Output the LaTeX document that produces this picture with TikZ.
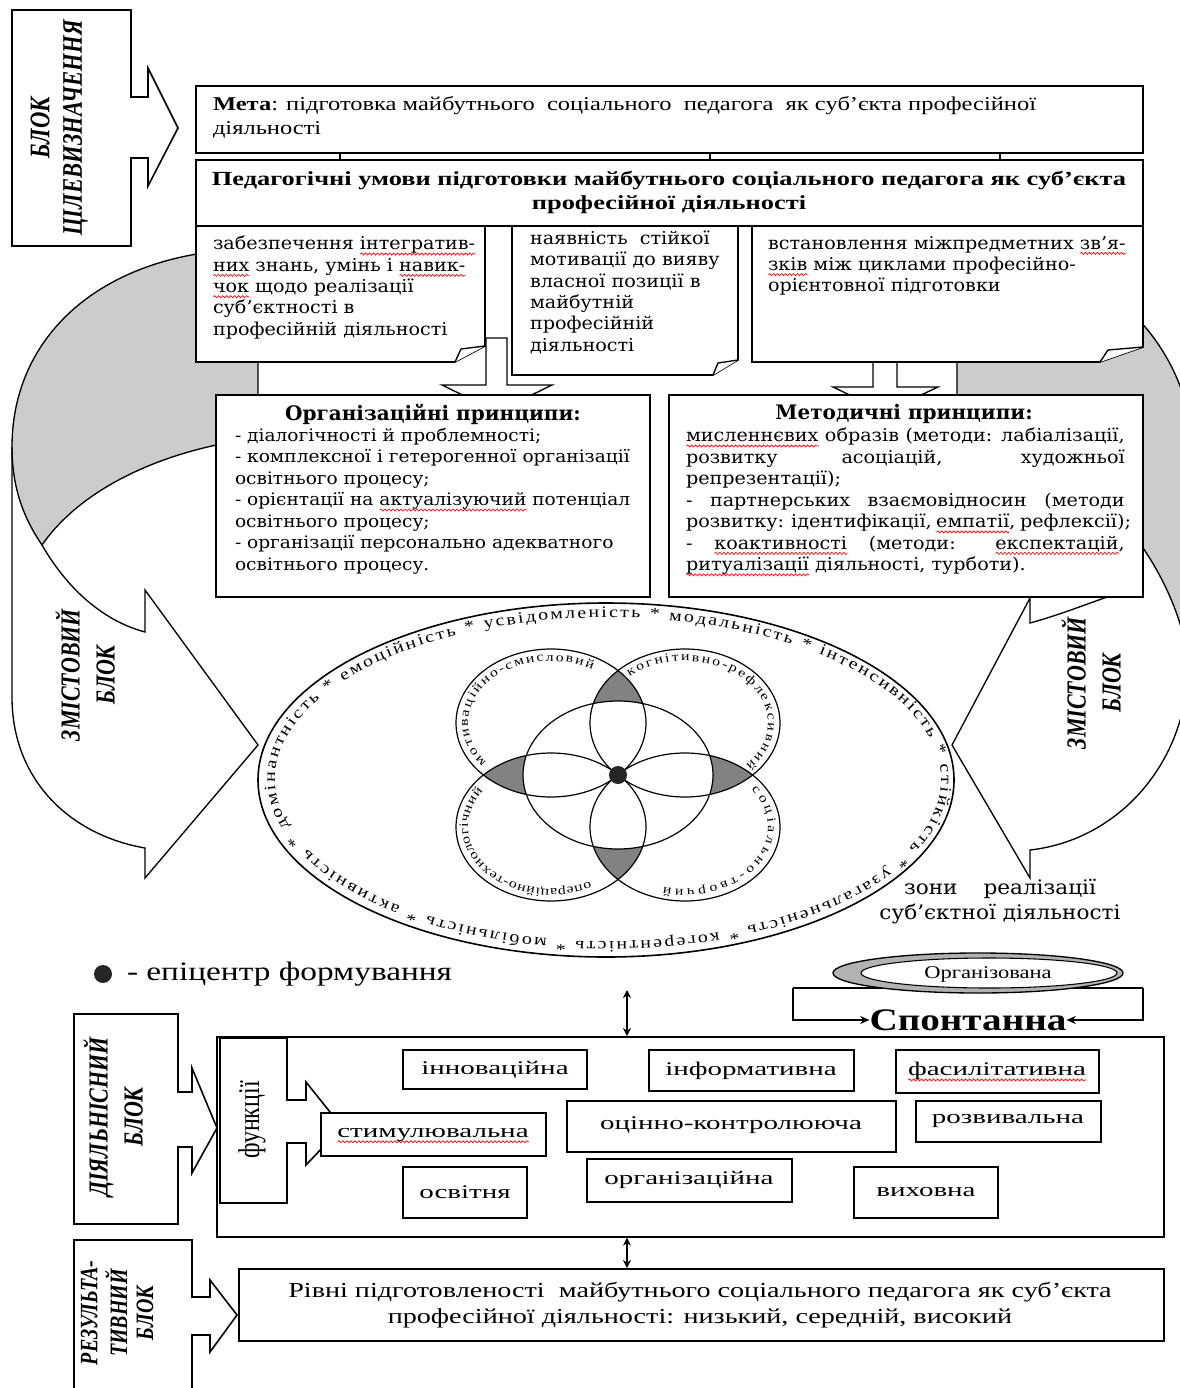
\documentclass[tikz,border=0pt]{standalone}
\usepackage{fontspec}
\setmainfont{Liberation Serif}
\newfontfamily\tw[FakeStretch=1.25]{Liberation Serif}
\newfontfamily\twx[FakeStretch=1.32]{Liberation Serif}
\newfontfamily\tfw[FakeStretch=1.5]{Liberation Serif}
\newfontfamily\dv{DejaVu Serif}
\newfontfamily\dvw[FakeStretch=1.08]{DejaVu Serif}
\usetikzlibrary{decorations.text,decorations.pathmorphing,arrows.meta}
\definecolor{bandgray}{RGB}{204,204,204}
\definecolor{petalgray}{RGB}{130,130,130}
\newlength\rwlen
\newcommand\rw[1]{\settowidth\rwlen{#1}\leavevmode\rlap{\raisebox{-3.2pt}[0pt][0pt]{\tikz[baseline=0pt]\draw[red, line width=0.5pt, decorate, decoration={snake, amplitude=0.8pt, segment length=3pt}] (0pt,0pt) -- (\rwlen,0pt);}}#1}
\tikzset{
 bx/.style={draw, line width=1.2pt, fill=white},
 ln/.style={line width=1pt},
 band/.style={draw, line width=1pt, fill=bandgray},
 circ/.style={draw, line width=0.9pt},
 dar/.style={line width=1pt, {Stealth[length=6pt,width=6pt]}-{Stealth[length=6pt,width=6pt]}},
 sar/.style={line width=1pt, -{Stealth[length=7pt,width=6pt]}},
 lbl/.style={inner sep=0pt, outer sep=0pt},
 fnt/.style={lbl, font=\tfw\fontsize{14.5}{16}\selectfont},
 boxt/.style={lbl, anchor=north west, align=left, font=\dvw\fontsize{13.3}{16}\selectfont},
 prt/.style={lbl, anchor=north west, align=left, font=\dvw\fontsize{13.3}{16.1}\selectfont},
 prto/.style={lbl, anchor=north west, align=left, font=\dvw\fontsize{12.9}{16.1}\selectfont},
 prh/.style={lbl, font=\dv\bfseries\fontsize{15}{17}\selectfont},
}
\begin{document}
\begin{tikzpicture}[x=0.75pt,y=-0.75pt]
\useasboundingbox (0,0) rectangle (1180,1388);
\fill[white] (0,0) rectangle (1180,1388);
\clip (0,0) rectangle (1180,1388);

% ---------- left curved arrow ----------
\filldraw[band] (258,249) .. controls (110,249) and (12,330) .. (12,447) .. controls (12,490) and (25,520) .. (42,545) .. controls (80,490) and (160,450) .. (258,438) -- cycle;
\draw[ln] (12,447) -- (12,697) .. controls (12,780) and (70,835) .. (145,848) -- (145,878) -- (258,745) -- (145,590) -- (145,632) .. controls (100,620) and (65,585) .. (42,545);

% ---------- right curved arrow ----------
\filldraw[band] (957,249) .. controls (1100,249) and (1195,340) .. (1195,470) .. controls (1195,560) and (1192,620) .. (1188,660) .. controls (1175,560) and (1080,440) .. (957,430) -- cycle;
\draw[ln] (1188,660) .. controls (1190,760) and (1120,840) .. (1030,850) -- (1030,878) -- (952,745) -- (1030,598) -- (1030,623) .. controls (1070,612) and (1100,598) .. (1130,590);

% ---------- ellipse and flower ----------
\filldraw[fill=white, line width=1.2pt] (606,780) ellipse [x radius=348, y radius=177];
\begin{scope}\clip (551,723) ellipse [x radius=95, y radius=74]; \fill[petalgray] (685,723) ellipse [x radius=95, y radius=74];\end{scope}
\begin{scope}\clip (685,723) ellipse [x radius=95, y radius=74]; \fill[petalgray] (685,827) ellipse [x radius=95, y radius=74];\end{scope}
\begin{scope}\clip (685,827) ellipse [x radius=95, y radius=74]; \fill[petalgray] (551,827) ellipse [x radius=95, y radius=74];\end{scope}
\begin{scope}\clip (551,827) ellipse [x radius=95, y radius=74]; \fill[petalgray] (551,723) ellipse [x radius=95, y radius=74];\end{scope}
\fill[white] (618,775) ellipse [x radius=95, y radius=74];
\draw[circ] (618,775) ellipse [x radius=95, y radius=74];
\draw[circ] (551,723) ellipse [x radius=95, y radius=74];
\draw[circ] (685,723) ellipse [x radius=95, y radius=74];
\draw[circ] (551,827) ellipse [x radius=95, y radius=74];
\draw[circ] (685,827) ellipse [x radius=95, y radius=74];
\fill[black!85] (618,775) circle (9);

\path[decorate, decoration={text along path, text align={fit to path}, text={|\tw\fontsize{12}{14}\selectfont|домінантність * емоційність * усвідомленість * модальність * інтенсивність * стійкість * узагальненість * когерентність * мобільність * активність *}}] (289.5,826.8) arc[start angle=-197, end angle=160, x radius=333, y radius=162];
\path[decorate, decoration={text along path, text align={fit to path}, text={|\tw\fontsize{9.5}{11}\selectfont|мотиваційно-смисловий}}] (486.5,762) arc[start angle=-219, end angle=-60, x radius=83, y radius=62];
\path[decorate, decoration={text along path, text align={fit to path}, text={|\tw\fontsize{9.5}{11}\selectfont|когнітивно-рефлексивний}}] (629.5,676.9) arc[start angle=-132, end angle=43, x radius=83, y radius=62];
\path[decorate, decoration={text along path, text align={fit to path}, text={|\tw\fontsize{9.5}{11}\selectfont|соціально-творчий}}] (751.3,789.7) arc[start angle=-37, end angle=105, x radius=83, y radius=62];
\path[decorate, decoration={text along path, text align={fit to path}, text={|\tw\fontsize{9.5}{11}\selectfont|операційно-технологічний}}] (590,881.7) arc[start angle=62, end angle=215, x radius=83, y radius=62];

% ---------- block arrows under note boxes ----------
\filldraw[ln, fill=white] (486,338) -- (486,385) -- (442,385) -- (497,412) -- (552,385) -- (507,385) -- (507,338) -- cycle;
\filldraw[ln, fill=white] (873,340) -- (873,387) -- (833,387) -- (885,412) -- (938,387) -- (897,387) -- (897,340) -- cycle;

% ---------- note boxes ----------
\filldraw[bx] (196,226) -- (485,226) -- (485,346) -- (455,362) -- (196,362) -- cycle;
\filldraw[ln, fill=white] (455,362) -- (461,349) -- (485,346);
\filldraw[bx] (512,226) -- (738,226) -- (738,360) -- (713,375) -- (512,375) -- cycle;
\filldraw[ln, fill=white] (713,375) -- (718,363) -- (738,360);
\filldraw[bx] (752,226) -- (1143,226) -- (1143,347) -- (1100,362) -- (752,362) -- cycle;
\filldraw[ln, fill=white] (1100,362) -- (1108,350) -- (1143,347);

\node[boxt] (ta) at (213,236) {забезпечення \rw{інтегратив-}\\\rw{них} знань, умінь і \rw{навик-}\\\rw{чок} щодо реалізації\\суб’єктності в\\професійній діяльності};
\node[boxt] (tb) at (530,231) {наявність~ стійкої\\мотивації до вияву\\власної позиції в\\майбутній\\професійній\\діяльності};
\node[boxt] (tc) at (768,236) {встановлення міжпредметних \rw{зв’я-}\\\rw{зків} між циклами професійно-\\орієнтовної підготовки};

% ---------- top boxes ----------
\filldraw[bx] (196,86) rectangle (1143,153);
\draw[ln] (340,153) -- (340,160);
\draw[ln] (710,153) -- (710,160);
\draw[ln] (1000,153) -- (1000,160);
\filldraw[bx] (196,160) rectangle (1143,226);
\node[lbl, anchor=north west, align=left, font=\tw\fontsize{14.7}{18}\selectfont] (meta) at (213,96) {\textbf{Мета}: підготовка майбутнього~ соціального~ педагога~ як суб’єкта професійної\\діяльності};
\node[lbl, anchor=north, align=center, font=\twx\bfseries\fontsize{15}{18}\selectfont] (ped) at (669,171) {Педагогічні умови підготовки майбутнього соціального педагога як суб’єкта\\професійної діяльності};

% ---------- principles ----------
\filldraw[bx] (216,395) rectangle (650,597);
\filldraw[bx] (669,395) rectangle (1143,597);
\node[prh] (oh) at (433,414) {Організаційні принципи:};
\node[prto] (ob) at (235,428) {- діалогічності й проблемності;\\- комплексної і гетерогенної організації\\освітнього процесу;\\- орієнтації на \rw{актуалізуючий} потенціал\\освітнього процесу;\\- організації персонально адекватного\\освітнього процесу.};
\node[prh] (mh) at (904,414) {Методичні принципи:};
\node[prt] (mb) at (686,428) {\makebox[329pt][s]{\rw{мисленнєвих} образів (методи: лабіалізації,}\\\makebox[329pt][s]{розвитку асоціацій, художньої}\\репрезентації);\\\makebox[329pt][s]{- партнерських взаємовідносин (методи}\\\makebox[329pt][s]{розвитку: ідентифікації, \rw{емпатії}, рефлексії);}\\\makebox[329pt][s]{- \rw{коактивності} (методи: \rw{експектацій},}\\\rw{ритуалізації} діяльності, турботи).};

% ---------- block 1 ----------
\filldraw[bx] (12,10) -- (131,10) -- (131,97) -- (148,97) -- (148,68) -- (178,128) -- (148,186) -- (148,158) -- (131,158) -- (131,246) -- (12,246) -- cycle;
\node[lbl, rotate=90] (bk1) at (59,128) {\scalebox{1}[1.25]{\fontsize{17}{19.5}\selectfont\bfseries\itshape\begin{tabular}{@{}c@{}}БЛОК\\ЦІЛЕВИЗНАЧЕННЯ\end{tabular}}};
\node[lbl, rotate=90] (bk2) at (90,675) {\scalebox{1}[1.25]{\fontsize{16.5}{21}\selectfont\bfseries\itshape\begin{tabular}{@{}c@{}}ЗМІСТОВИЙ\\БЛОК\end{tabular}}};
\node[lbl, rotate=90] (bk3) at (1096,683) {\scalebox{1}[1.25]{\fontsize{16.5}{21}\selectfont\bfseries\itshape\begin{tabular}{@{}c@{}}ЗМІСТОВИЙ\\БЛОК\end{tabular}}};

\node[lbl, anchor=north, align=center, font=\dvw\fontsize{15}{18.75}\selectfont] (zone) at (1000,879) {\makebox[144pt][s]{зони реалізації}\\суб’єктної діяльності};

% ---------- legend and organised / spontaneous ----------
\fill[black!85] (103,974) circle (9);
\node[lbl, anchor=west, font=\tw\fontsize{20}{22}\selectfont] (leg) at (127,974) {- епіцентр формування};
\node[lbl, font=\tw\bfseries\fontsize{23.5}{25}\selectfont] (spon) at (968,1020) {Спонтанна};
\draw[sar] (793,988) |- (spon.west);
\draw[sar] (1143,988) |- (spon.east);
\draw[ln] (793,988) -- (1143,988);
\filldraw[fill=gray!60, line width=1pt] (978,973) ellipse [x radius=145, y radius=20];
\filldraw[fill=white, line width=0.8pt] (989,973) ellipse [x radius=128, y radius=15];
\node[lbl, font=\tw\fontsize{13.5}{15}\selectfont] (orgt) at (988,974) {Організована};

% ---------- functions ----------
\node[bx, anchor=north west, minimum width=710.25pt, minimum height=150pt, inner sep=0pt] (fbox) at (216,1036) {};
\coordinate (d1) at (627,990);
\draw[dar] (d1) -- (d1 |- fbox.north);
\filldraw[bx] (74,1014) -- (178,1014) -- (178,1092) -- (192,1092) -- (192,1068) -- (217,1128) -- (192,1173) -- (192,1147) -- (178,1147) -- (178,1224) -- (74,1224) -- cycle;
\node[lbl, rotate=90] (bk4) at (118,1117) {\scalebox{1}[1.25]{\fontsize{16.5}{21}\selectfont\bfseries\itshape\begin{tabular}{@{}c@{}}ДІЯЛЬНІСНИЙ\\БЛОК\end{tabular}}};
\filldraw[bx] (220,1038) -- (287,1038) -- (287,1100) -- (306,1100) -- (306,1082) -- (342,1127) -- (306,1165) -- (306,1143) -- (287,1143) -- (287,1203) -- (220,1203) -- cycle;
\node[lbl, rotate=90] (bk6) at (252,1120) {\scalebox{1}[1.25]{\fontsize{18}{20}\selectfont функції}};

\filldraw[bx] (403,1050) rectangle (587,1089);
\node[fnt] (f1) at (495,1070) {інноваційна};
\filldraw[bx] (649,1050) rectangle (854,1091);
\node[fnt] (f2) at (751,1071) {інформативна};
\filldraw[bx] (896,1050) rectangle (1099,1093);
\node[fnt] (f3) at (997,1071) {\rw{фасилітативна}};
\filldraw[bx] (321,1113) rectangle (546,1156);
\node[fnt] (f4) at (433,1135) {\rw{стимулювальна}};
\filldraw[bx] (567,1101) rectangle (896,1152);
\node[fnt] (f5) at (731,1125) {оцінно-контролююча};
\filldraw[bx] (916,1101) rectangle (1101,1142);
\node[fnt] (f6) at (1008,1121) {розвивальна};
\filldraw[bx] (403,1167) rectangle (527,1218);
\node[fnt] (f7) at (465,1192) {освітня};
\filldraw[bx] (587,1159) rectangle (792,1202);
\node[fnt] (f8) at (689,1180) {організаційна};
\filldraw[bx] (854,1167) rectangle (998,1218);
\node[fnt] (f9) at (926,1192) {виховна};

% ---------- result ----------
\node[bx, anchor=north west, minimum width=693.75pt, minimum height=54pt, inner sep=0pt] (rbox) at (238,1268) {};
\coordinate (d2) at (627,1250);
\draw[dar] (d2 |- fbox.south) -- (d2 |- rbox.north);
\filldraw[bx] (74,1240) -- (192,1240) -- (192,1297) -- (210,1297) -- (210,1280) -- (237,1315) -- (210,1352) -- (210,1335) -- (192,1335) -- (192,1400) -- (74,1400) -- cycle;
\node[lbl, rotate=90] (bk5) at (120,1313) {\scalebox{1}[1.25]{\fontsize{15}{15.5}\selectfont\bfseries\itshape\begin{tabular}{@{}c@{}}РЕЗУЛЬТА-\\ТИВНИЙ\\БЛОК\end{tabular}}};
\node[lbl, anchor=north, align=center, font=\twx\fontsize{16}{19.5}\selectfont] (res) at (700,1282) {Рівні підготовленості~ майбутнього соціального педагога як суб’єкта\\професійної діяльності: низький, середній, високий};
\end{tikzpicture}
\end{document}
